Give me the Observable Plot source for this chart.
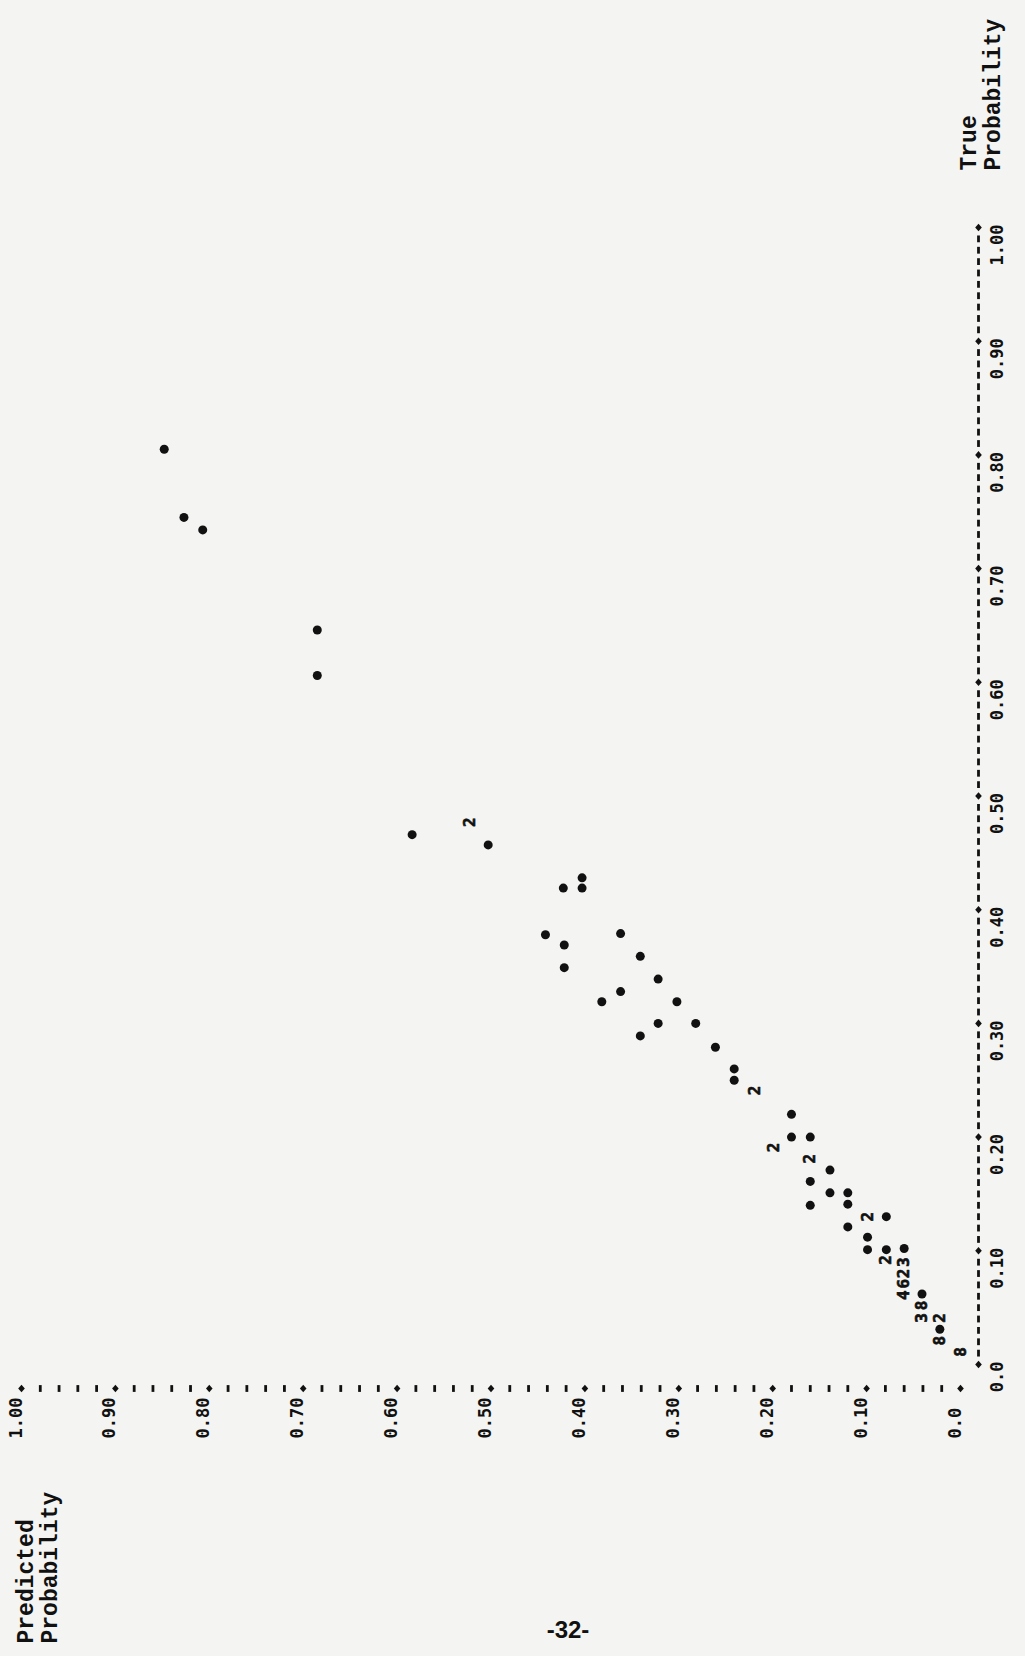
<!DOCTYPE html>
<html>
<head>
<meta charset="utf-8">
<script src="https://cdn.jsdelivr.net/npm/d3@7"></script>
<script src="https://cdn.jsdelivr.net/npm/@observablehq/plot@0.6"></script>
<style>
  html, body { margin: 0; padding: 0; background: #f4f4f2; }
  #chart svg { display: block; }
</style>
</head>
<body>
<div id="chart"></div>
<script>
// Predicted probability (printer rows) of each plotted cell
const predicted = [
  0.848, 0.827, 0.807, 0.685, 0.685, 0.584, 0.522, 0.503, 0.403, 0.423,
  0.403, 0.442, 0.362, 0.422, 0.341, 0.422, 0.322, 0.362, 0.382, 0.302,
  0.322, 0.282, 0.341, 0.261, 0.241, 0.241, 0.219, 0.180, 0.199, 0.180,
  0.160, 0.160, 0.139, 0.160, 0.139, 0.120, 0.160, 0.120, 0.099, 0.079,
  0.120, 0.099, 0.099, 0.079, 0.079, 0.060, 0.060, 0.060, 0.060, 0.060,
  0.041, 0.041, 0.041, 0.022, 0.022, 0.022, 0.000
];
// True probability of each plotted cell
const truth = [
  0.805, 0.745, 0.734, 0.646, 0.606, 0.466, 0.477, 0.457, 0.428, 0.419,
  0.419, 0.378, 0.379, 0.369, 0.359, 0.349, 0.339, 0.328, 0.319, 0.319,
  0.300, 0.300, 0.289, 0.279, 0.260, 0.250, 0.241, 0.220, 0.191, 0.200,
  0.200, 0.181, 0.171, 0.161, 0.151, 0.151, 0.140, 0.141, 0.130, 0.130,
  0.121, 0.112, 0.101, 0.101, 0.092, 0.102, 0.090, 0.080, 0.071, 0.061,
  0.062, 0.052, 0.041, 0.041, 0.031, 0.021, 0.011
];
// Number of observations printed in each cell (1 = dot, otherwise the digit)
const counts = [
  1, 1, 1, 1, 1, 1, 2, 1, 1, 1,
  1, 1, 1, 1, 1, 1, 1, 1, 1, 1,
  1, 1, 1, 1, 1, 1, 2, 1, 2, 1,
  1, 2, 1, 1, 1, 1, 1, 1, 2, 1,
  1, 1, 1, 1, 2, 1, 3, 2, 6, 4,
  1, 8, 3, 2, 1, 8, 8
];
const tickValues = [0, 0.1, 0.2, 0.3, 0.4, 0.5, 0.6, 0.7, 0.8, 0.9, 1.0];
const tickLabels = ["0.0", "0.10", "0.20", "0.30", "0.40", "0.50", "0.60", "0.70", "0.80", "0.90", "1.00"];
const xTitle = "Predicted\nProbability";
const yTitle = "True\nProbability";
const pageNumber = "-32-";

const ink = "#111";
const mono = "DejaVu Sans Mono";

const points = predicted.map((p, i) => ({p, t: truth[i], n: counts[i]}));
const singles = points.filter(d => d.n === 1);
const multiples = points.filter(d => d.n > 1);
const ticks = tickValues.map((v, i) => ({v, label: tickLabels[i]}));

// axis decoration: printer marks every 0.02 (predicted) and 0.01 (true)
const minorPred = d3.range(1, 50).map(i => i / 50).filter((v, i) => (i + 1) % 5 !== 0);
const minorTrue = d3.range(1, 100).map(i => i / 100).filter((v, i) => (i + 1) % 10 !== 0);

const vDash = {draw(ctx) { ctx.rect(-1.4, -3.4, 2.8, 6.8); }};
const diamond = {draw(ctx) {
  ctx.moveTo(0, -3.8); ctx.lineTo(3.3, 0); ctx.lineTo(0, 3.8); ctx.lineTo(-3.3, 0); ctx.closePath();
}};

const chart = Plot.plot({
  width: 1025,
  height: 1656,
  marginLeft: 21,
  marginRight: 65,
  marginTop: 227,
  marginBottom: 292,
  style: {background: "#f4f4f2", color: ink},
  x: {domain: [0, 1], reverse: true, axis: null},
  y: {domain: [0, 1], axis: null},
  marks: [
    // predicted-probability axis (horizontal, below)
    Plot.dot(minorPred, {x: d => d, frameAnchor: "bottom", dy: 24, symbol: vDash, fill: ink, stroke: null}),
    Plot.dot(tickValues, {x: d => d, frameAnchor: "bottom", dy: 24, symbol: diamond, fill: ink, stroke: null}),
    Plot.text(ticks, {x: "v", text: "label", frameAnchor: "bottom", dy: 74, rotate: -90,
      textAnchor: "start", fontSize: 17, fontFamily: mono, fontWeight: "bold", fill: ink}),
    // true-probability axis (vertical, right)
    Plot.dot(minorTrue, {y: d => d, frameAnchor: "right", dx: 18, symbol: vDash, fill: ink, stroke: null}),
    Plot.dot(tickValues, {y: d => d, frameAnchor: "right", dx: 18, symbol: diamond, fill: ink, stroke: null}),
    Plot.text(ticks, {y: "v", text: "label", frameAnchor: "right", dx: 37, dy: -3, rotate: -90,
      textAnchor: "end", fontSize: 17, fontFamily: mono, fontWeight: "bold", fill: ink}),
    // data
    Plot.dot(singles, {x: "p", y: "t", r: 4.5, fill: ink, stroke: null}),
    Plot.text(multiples, {x: "p", y: "t", text: d => String(d.n), rotate: -90,
      fontSize: 16, fontFamily: mono, fontWeight: "bold", fill: ink, stroke: ink, strokeWidth: 0.6}),
    // titles
    Plot.text([xTitle], {text: d => d, frameAnchor: "bottom-left", dx: 16, dy: 279, rotate: -90,
      textAnchor: "start", lineAnchor: "middle", lineHeight: 1.05, fontSize: 23,
      fontFamily: "Liberation Mono", fontWeight: "bold", fill: ink}),
    Plot.text([yTitle], {text: d => d, frameAnchor: "top-right", dx: 20, dy: -57, rotate: -90,
      textAnchor: "start", lineAnchor: "middle", lineHeight: 1.05, fontSize: 23,
      fontFamily: "Liberation Mono", fontWeight: "bold", fill: ink}),
    Plot.text([pageNumber], {text: d => d, frameAnchor: "bottom", dx: 77, dy: 273,
      fontSize: 24, fontFamily: "Liberation Sans", fontWeight: "bold", fill: ink})
  ]
});
document.getElementById("chart").append(chart);
</script>
</body>
</html>
